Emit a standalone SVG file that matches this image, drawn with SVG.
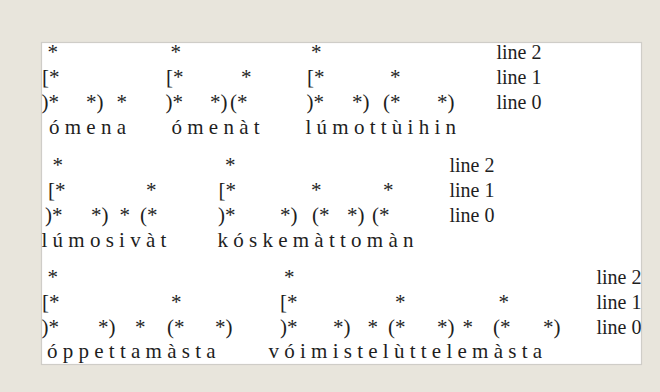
<svg xmlns="http://www.w3.org/2000/svg" width="660" height="392" viewBox="0 0 660 392">
  <defs>
    <style>
      .grid text { font-size: 21px; fill: #1e1e1e; }
      .grid text.lbl { font-size: 20px; }
    </style>
    <clipPath id="panelClip">
      <rect x="41.5" y="42.5" width="600" height="322"/>
    </clipPath>
  </defs>

  <!-- page background and white panel -->
  <rect x="0" y="0" width="660" height="392" fill="#e8e5dc"/>
  <rect x="41.5" y="42.5" width="600" height="322" fill="#ffffff" stroke="#cfcdc8" stroke-width="1.2"/>

  <g class="grid" clip-path="url(#panelClip)" font-family="'Liberation Serif', 'DejaVu Serif', serif">
    <!-- block 1: ómena, ómenàt, lúmottùihin -->
    <g id="block1">
      <text y="59"><tspan x="47.5">*</tspan><tspan x="170.5">*</tspan><tspan x="311">*</tspan></text>
      <text y="84"><tspan x="42">[*</tspan><tspan x="166">[*</tspan><tspan x="241">*</tspan><tspan x="307">[*</tspan><tspan x="390">*</tspan></text>
      <text y="109"><tspan x="41.5">)*</tspan><tspan x="86">*)</tspan><tspan x="116.5">*</tspan><tspan x="165.5">)*</tspan><tspan x="210">*)</tspan><tspan x="230">(*</tspan><tspan x="306.5">)*</tspan><tspan x="352">*)</tspan><tspan x="383">(*</tspan><tspan x="437">*)</tspan></text>
      <text y="134"><tspan x="49">ó m e n a</tspan><tspan x="171.5">ó m e n à t</tspan><tspan x="305.5">l ú m o t t ù i h i n</tspan></text>
      <text class="lbl" y="59" x="496.5">line 2</text>
      <text class="lbl" y="84" x="496.5">line 1</text>
      <text class="lbl" y="109" x="496.5">line 0</text>
    </g>

    <!-- block 2: lúmosivàt, kóskemàttomàn -->
    <g id="block2">
      <text y="171.5"><tspan x="52.5">*</tspan><tspan x="225">*</tspan></text>
      <text y="196.5"><tspan x="48">[*</tspan><tspan x="146">*</tspan><tspan x="218.5">[*</tspan><tspan x="311">*</tspan><tspan x="383">*</tspan></text>
      <text y="221.5"><tspan x="45">)*</tspan><tspan x="91">*)</tspan><tspan x="119.5">*</tspan><tspan x="140">(*</tspan><tspan x="218">)*</tspan><tspan x="280">*)</tspan><tspan x="312">(*</tspan><tspan x="347">*)</tspan><tspan x="372">(*</tspan></text>
      <text y="246.5"><tspan x="41.5">l ú m o s i v à t</tspan><tspan x="217.5">k ó s k e m à t t o m à n</tspan></text>
      <text class="lbl" y="171.5" x="449.5">line 2</text>
      <text class="lbl" y="196.5" x="449.5">line 1</text>
      <text class="lbl" y="221.5" x="449.5">line 0</text>
    </g>

    <!-- block 3: óppettamàsta, vóimistelùttelemàsta -->
    <g id="block3">
      <text y="283.5"><tspan x="47.5">*</tspan><tspan x="284">*</tspan></text>
      <text y="308.5"><tspan x="42">[*</tspan><tspan x="171">*</tspan><tspan x="280">[*</tspan><tspan x="395">*</tspan><tspan x="498.5">*</tspan></text>
      <text y="333.5"><tspan x="41.5">)*</tspan><tspan x="98">*)</tspan><tspan x="135">*</tspan><tspan x="167">(*</tspan><tspan x="215">*)</tspan><tspan x="280">)*</tspan><tspan x="333">*)</tspan><tspan x="367.5">*</tspan><tspan x="388">(*</tspan><tspan x="437">*)</tspan><tspan x="462.5">*</tspan><tspan x="493">(*</tspan><tspan x="543">*)</tspan></text>
      <text y="358"><tspan x="47">ó p p e t t a m à s t a</tspan><tspan x="268.5">v ó i m i s t e l ù t t e l e m à s t a</tspan></text>
      <text class="lbl" y="283.5" x="596.5">line 2</text>
      <text class="lbl" y="308.5" x="596.5">line 1</text>
      <text class="lbl" y="333.5" x="596.5">line 0</text>
    </g>
  </g>
</svg>
